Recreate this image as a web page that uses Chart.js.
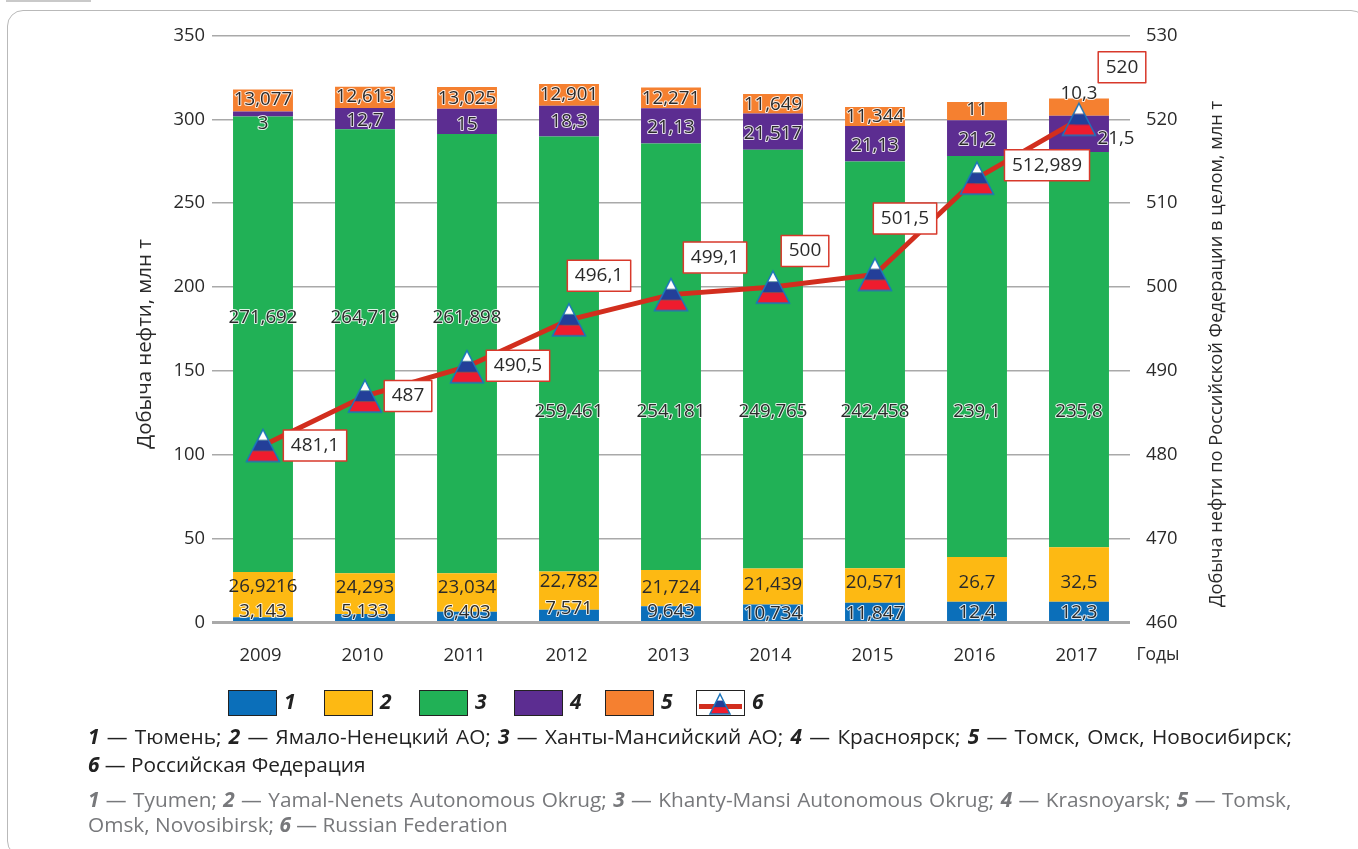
<!DOCTYPE html>
<html lang="ru">
<head>
    <meta charset="UTF-8">
    <title>Добыча нефти</title>
    <script src="https://cdn.jsdelivr.net/npm/chart.js"></script>
    <style>
        body { margin: 0; background: #fff; width: 1358px; height: 849px; overflow: hidden; position: relative; font-family: "Open Sans", sans-serif; }
        #chart { position: absolute; left: 0; top: 0; }
        #tab { position: absolute; left: 6px; top: 0; width: 85px; height: 2px; background: #c9c9c9; }
        #frame { position: absolute; left: 7px; top: 10px; width: 1358px; height: 845px; border: 1.5px solid #b9b9b9; border-radius: 16px; }
        .swatch { position: absolute; top: 690px; width: 47px; height: 24px; border: 1px solid #222; }
        .num { position: absolute; top: 687px; font: italic bold 21px "Open Sans", sans-serif; color: #222; line-height: 28px; }
        .cap { position: absolute; left: 88px; white-space: nowrap; font-size: 20.8px; line-height: 28px; }
        .cap b { font-style: italic; font-weight: 700; }
        .dark { color: #222; }
        .grey { color: #77787b; }
    </style>
</head>
<body>
    <div id="tab"></div>
    <div id="frame"></div>
    <canvas id="chart" width="1358" height="849"></canvas>
    <div id="legend"></div>
    <div class="cap dark" style="top:722px;word-spacing:1.9px"><b>1</b> — Тюмень; <b>2</b> — Ямало-Ненецкий АО; <b>3</b> — Ханты-Мансийский АО; <b>4</b> — Красноярск; <b>5</b> — Томск, Омск, Новосибирск;</div>
    <div class="cap dark" style="top:750px"><b>6</b> — Российская Федерация</div>
    <div class="cap grey" style="top:785px;word-spacing:1px"><b>1</b> — Tyumen; <b>2</b> — Yamal-Nenets Autonomous Okrug; <b>3</b> — Khanty-Mansi Autonomous Okrug; <b>4</b> — Krasnoyarsk; <b>5</b> — Tomsk,</div>
    <div class="cap grey" style="top:810px">Omsk, Novosibirsk; <b>6</b> — Russian Federation</div>

    <script>
        const years = ['2009', '2010', '2011', '2012', '2013', '2014', '2015', '2016', '2017'];
        const tyumen = [3.143, 5.133, 6.403, 7.571, 9.643, 10.734, 11.847, 12.4, 12.3];
        const yamal = [26.9216, 24.293, 23.034, 22.782, 21.724, 21.439, 20.571, 26.7, 32.5];
        const khanty = [271.692, 264.719, 261.898, 259.461, 254.181, 249.765, 242.458, 239.1, 235.8];
        const krasnoyarsk = [3, 12.7, 15, 18.3, 21.13, 21.517, 21.13, 21.2, 21.5];
        const tomsk = [13.077, 12.613, 13.025, 12.901, 12.271, 11.649, 11.344, 11, 10.3];
        const russia = [481.1, 487, 490.5, 496.1, 499.1, 500, 501.5, 512.989, 520];

        const leftTicks = [0, 50, 100, 150, 200, 250, 300, 350];
        const rightTicks = [460, 470, 480, 490, 500, 510, 520, 530];

        const colors = ['#0b6fba', '#fdb913', '#21b156', '#5c2d91', '#f58030'];
        const lineColor = '#d22e1e';

        // where the bar labels sit, in left axis units (they are not centred in the reference)
        const labelLevels = [
            [6.5, 6.5, 6, 8.3, 6.5, 5.4, 5.4, 6, 6],
            [21.4, 20.8, 20.8, 24.4, 20.8, 22.6, 23.8, 23.8, 23.8],
            [182, 182, 182, 126, 126, 126, 126, 126, 126],
            [297.6, 299.4, 297, 298.8, 295.2, 291.7, 284.5, 288.1, 288.7],
            [311.9, 313.7, 312.5, 314.9, 312.5, 308.9, 301.8, 306, 315.5]
        ];
        // offset of the boxed labels from their point
        const boxOffsets = [[52, 0], [43, 0], [51, -1], [30, -44], [44, -37], [32, -36], [30, -56], [70, -13], [43, -52]];

        const labelFont = '18.7px "Open Sans"';
        const boxFont = '19px "Open Sans"';
        const textColor = '#2a2a2a';

        const comma = v => String(v).replace('.', ',');

        function drawFlag(ctx, x, y, w, h) {
            // white, blue and red bands inside a triangle
            ctx.save();
            ctx.beginPath();
            ctx.moveTo(x + w / 2, y);
            ctx.lineTo(x + w, y + h);
            ctx.lineTo(x, y + h);
            ctx.closePath();
            ctx.save();
            ctx.clip();
            ctx.fillStyle = '#ffffff';
            ctx.fillRect(x, y, w, h * 0.33);
            ctx.fillStyle = '#233f99';
            ctx.fillRect(x, y + h * 0.33, w, h * 0.34);
            ctx.fillStyle = '#ee1c2e';
            ctx.fillRect(x, y + h * 0.67, w, h * 0.33);
            ctx.restore();
            ctx.strokeStyle = '#1c75bc';
            ctx.lineWidth = 1.5;
            ctx.stroke();
            ctx.restore();
        }

        const marker = document.createElement('canvas');
        marker.width = 36;
        marker.height = 36;
        drawFlag(marker.getContext('2d'), 1.5, 2, 33, 32);

        const barLabels = {
            id: 'barLabels',
            afterDatasetsDraw(chart) {
                const ctx = chart.ctx;
                const y = chart.scales.y;
                ctx.save();
                ctx.font = labelFont;
                ctx.textAlign = 'center';
                ctx.textBaseline = 'middle';
                ctx.lineJoin = 'round';
                labelLevels.forEach((levels, ds) => {
                    const meta = chart.getDatasetMeta(ds);
                    levels.forEach((level, i) => {
                        let x = meta.data[i].x;
                        if (ds === 3 && i === 8) x += 37;
                        const py = y.getPixelForValue(level);
                        const txt = comma(chart.data.datasets[ds].data[i]);
                        if (ds !== 1) {
                            ctx.strokeStyle = 'rgba(255,255,255,0.85)';
                            ctx.lineWidth = 2;
                            ctx.strokeText(txt, x, py);
                        }
                        ctx.fillStyle = textColor;
                        ctx.fillText(txt, x, py);
                    });
                });
                // boxed values of the line
                ctx.font = boxFont;
                const meta = chart.getDatasetMeta(5);
                russia.forEach((v, i) => {
                    const txt = comma(v);
                    const cx = meta.data[i].x + boxOffsets[i][0];
                    const cy = meta.data[i].y + boxOffsets[i][1];
                    const w = ctx.measureText(txt).width + 15;
                    ctx.fillStyle = '#fff';
                    ctx.fillRect(cx - w / 2, cy - 15.5, w, 31);
                    ctx.strokeStyle = '#d8392b';
                    ctx.lineWidth = 1.5;
                    ctx.strokeRect(cx - w / 2, cy - 15.5, w, 31);
                    ctx.fillStyle = textColor;
                    ctx.fillText(txt, cx, cy);
                });
                ctx.restore();
            }
        };

        const axisTexts = {
            id: 'axisTexts',
            afterDraw(chart) {
                const ctx = chart.ctx;
                ctx.save();
                ctx.fillStyle = textColor;
                ctx.textAlign = 'center';
                ctx.textBaseline = 'middle';
                ctx.font = '17.5px "Open Sans"';
                ctx.fillText('Годы', 1158, 655);
                ctx.save();
                ctx.font = '20.4px "Open Sans"';
                ctx.translate(145, 344);
                ctx.rotate(-Math.PI / 2);
                ctx.fillText('Добыча нефти, млн т', 0, 0);
                ctx.restore();
                ctx.font = '18.3px "Open Sans"';
                ctx.translate(1217, 354);
                ctx.rotate(-Math.PI / 2);
                ctx.fillText('Добыча нефти по Российской Федерации в целом, млн т', 0, 0);
                ctx.restore();
            }
        };

        const barSet = (label, data, i) => ({
            label, data,
            backgroundColor: colors[i],
            barPercentage: 0.5875,
            categoryPercentage: 1,
            order: 2
        });

        const tickFont = { family: 'Open Sans', size: 18.4 };

        new Chart(document.getElementById('chart'), {
            type: 'bar',
            data: {
                labels: years,
                datasets: [
                    barSet('1', tyumen, 0),
                    barSet('2', yamal, 1),
                    barSet('3', khanty, 2),
                    barSet('4', krasnoyarsk, 3),
                    barSet('5', tomsk, 4),
                    {
                        type: 'line',
                        label: '6',
                        data: russia,
                        yAxisID: 'y2',
                        borderColor: lineColor,
                        borderWidth: 5,
                        tension: 0,
                        pointStyle: marker,
                        order: 1
                    }
                ]
            },
            options: {
                responsive: false,
                animation: false,
                layout: { padding: { top: 35.5 } },
                plugins: { legend: { display: false }, tooltip: { enabled: false } },
                scales: {
                    x: {
                        stacked: true,
                        grid: { display: false },
                        border: { display: false },
                        ticks: { font: tickFont, color: textColor, padding: 14, maxRotation: 0, labelOffset: -2.5 },
                        afterFit: s => { s.height = 226.5; }
                    },
                    y: {
                        stacked: true,
                        min: 0,
                        max: 350,
                        afterBuildTicks: s => { s.ticks = leftTicks.map(value => ({ value })); },
                        grid: {
                            color: '#a9a9a9',
                            lineWidth: c => c.tick.value === 0 ? 3 : 1.5,
                            drawTicks: false
                        },
                        border: { display: false },
                        ticks: { font: tickFont, color: textColor, padding: 7 },
                        afterFit: s => { s.width = 212; }
                    },
                    y2: {
                        position: 'right',
                        min: 460,
                        max: 530,
                        afterBuildTicks: s => { s.ticks = rightTicks.map(value => ({ value })); },
                        grid: { display: false },
                        border: { display: false },
                        ticks: { font: tickFont, color: textColor, padding: 8 },
                        afterFit: s => { s.width = 228; }
                    }
                }
            },
            plugins: [barLabels, axisTexts]
        });

        // legend under the chart
        const legendX = [228, 324, 419, 514, 605, 696];
        const legend = document.getElementById('legend');
        legendX.forEach((x, i) => {
            const num = document.createElement('div');
            num.className = 'num';
            num.style.left = (x + 56) + 'px';
            num.textContent = i + 1;
            legend.appendChild(num);
            if (i < 5) {
                const sw = document.createElement('div');
                sw.className = 'swatch';
                sw.style.left = x + 'px';
                sw.style.background = colors[i];
                legend.appendChild(sw);
            } else {
                const c = document.createElement('canvas');
                c.width = 49;
                c.height = 26;
                c.style.cssText = 'position:absolute;top:690px;left:' + x + 'px';
                const g = c.getContext('2d');
                g.strokeStyle = '#222';
                g.strokeRect(0.5, 0.5, 48, 25);
                g.fillStyle = lineColor;
                g.fillRect(3, 14, 43, 5);
                drawFlag(g, 14, 4, 20, 20);
                legend.appendChild(c);
            }
        });
    </script>
</body>
</html>
